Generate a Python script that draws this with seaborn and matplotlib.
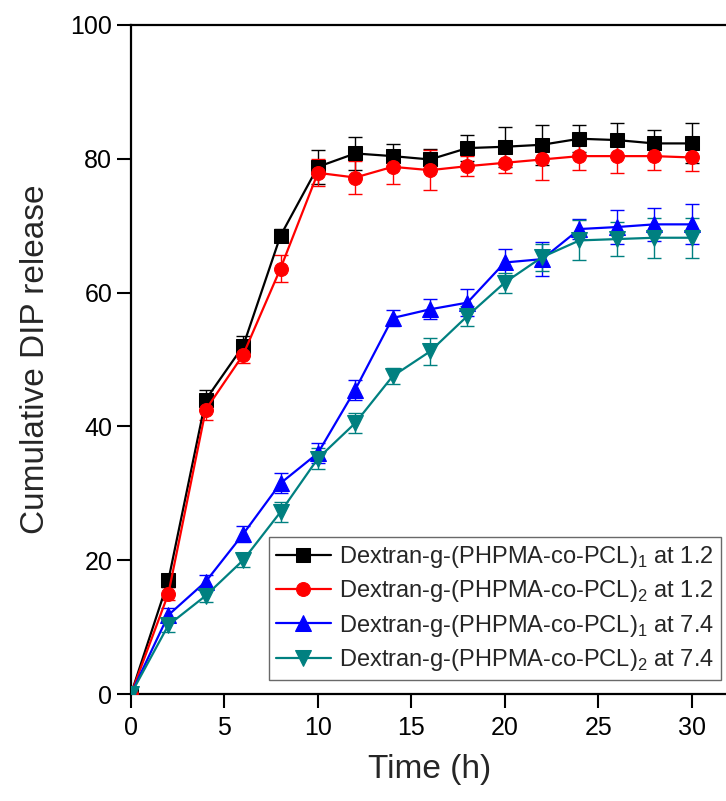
import numpy as np
import pandas as pd
import matplotlib
matplotlib.use("Agg")
import matplotlib.pyplot as plt
import seaborn as sns

# data
time_h = [0, 2, 4, 6, 8, 10, 12, 14, 16, 18, 20, 22, 24, 26, 28, 30]

d1_ph12 = [0, 17.0, 44.0, 52.0, 68.5, 78.8, 80.8, 80.4, 79.9, 81.6, 81.8, 82.1, 83.0, 82.8, 82.3, 82.3]
d2_ph12 = [0, 15.0, 42.5, 50.7, 63.6, 77.9, 77.2, 78.8, 78.3, 78.9, 79.4, 79.9, 80.4, 80.4, 80.4, 80.2]
d1_ph74 = [0, 11.8, 16.8, 23.9, 31.5, 36.0, 45.5, 56.2, 57.5, 58.5, 64.5, 65.0, 69.5, 69.8, 70.2, 70.2]
d2_ph74 = [0, 10.3, 14.7, 20.0, 27.2, 35.2, 40.5, 47.5, 51.2, 56.5, 61.5, 65.3, 67.8, 68.0, 68.2, 68.2]

err_d1_ph12 = [0, 1.0, 1.5, 1.5, 1.0, 2.5, 2.5, 1.8, 1.5, 2.0, 3.0, 3.0, 2.0, 2.5, 2.0, 3.0]
err_d2_ph12 = [0, 1.0, 1.5, 1.2, 2.0, 2.0, 2.5, 2.5, 3.0, 1.5, 1.5, 3.0, 2.0, 2.5, 2.0, 2.0]
err_d1_ph74 = [0, 1.0, 1.0, 1.2, 1.5, 1.5, 1.5, 1.2, 1.5, 2.0, 2.0, 2.5, 1.5, 2.5, 2.5, 3.0]
err_d2_ph74 = [0, 1.0, 1.0, 1.0, 1.5, 1.5, 1.5, 1.2, 2.0, 1.5, 1.5, 2.0, 3.0, 2.5, 3.0, 3.0]

labels = [
    r"Dextran-g-(PHPMA-co-PCL)$_\mathregular{1}$ at 1.2",
    r"Dextran-g-(PHPMA-co-PCL)$_\mathregular{2}$ at 1.2",
    r"Dextran-g-(PHPMA-co-PCL)$_\mathregular{1}$ at 7.4",
    r"Dextran-g-(PHPMA-co-PCL)$_\mathregular{2}$ at 7.4",
]
colors = ["#000000", "#FF0000", "#0000FF", "#008080"]
markers = ["s", "o", "^", "v"]
msizes = [10, 10, 11, 11]

series = [d1_ph12, d2_ph12, d1_ph74, d2_ph74]
errors = [err_d1_ph12, err_d2_ph12, err_d1_ph74, err_d2_ph74]

# long table for seaborn
rows = []
for lab, vals, errs in zip(labels, series, errors):
    for t, v, e in zip(time_h, vals, errs):
        rows.append({"time": t, "release": v, "err": e, "sample": lab})
df = pd.DataFrame(rows)

sns.set_style("ticks")
plt.rcParams["font.family"] = ["Liberation Sans", "DejaVu Sans"]
plt.rcParams["mathtext.fontset"] = "custom"
plt.rcParams["mathtext.rm"] = "Liberation Sans"

fig = plt.figure(figsize=(7.26, 8.01), dpi=100)
ax = fig.add_axes([131 / 726, 107 / 801, 598 / 726, 669 / 801])

for lab, col, mk, ms in zip(labels, colors, markers, msizes):
    sub = df[df["sample"] == lab]
    ax.errorbar(sub["time"], sub["release"], yerr=sub["err"], fmt="none",
                ecolor=col, elinewidth=1.0, capsize=5, capthick=1.0, zorder=2)
    sns.lineplot(data=sub, x="time", y="release", ax=ax, color=col,
                 marker=mk, markersize=ms, markeredgecolor=col, linewidth=1.6,
                 label=lab, zorder=3)

ax.set_xlim(0, 32)
ax.set_ylim(0, 100)
ax.set_xticks([0, 5, 10, 15, 20, 25, 30])
ax.set_yticks([0, 20, 40, 60, 80, 100])
ax.tick_params(axis="both", direction="out", length=10, width=1.5,
               labelsize=18, color="black", labelcolor="black")
ax.tick_params(axis="x", pad=6)
for side in ["left", "bottom", "top", "right"]:
    ax.spines[side].set_linewidth(1.6)
    ax.spines[side].set_color("black")

ax.set_xlabel("Time (h)", fontsize=24, labelpad=10)
ax.set_ylabel("Cumulative DIP release", fontsize=24, labelpad=14)

leg = ax.legend(loc="lower right", bbox_to_anchor=(0.9866, 0.021),
                borderaxespad=0, fontsize=17, frameon=True, fancybox=False,
                edgecolor="#444444", handlelength=2.3, handletextpad=0.35,
                labelspacing=0.35, borderpad=0.3)
leg.get_frame().set_linewidth(1.0)

fig.savefig("out.png", dpi=100)
